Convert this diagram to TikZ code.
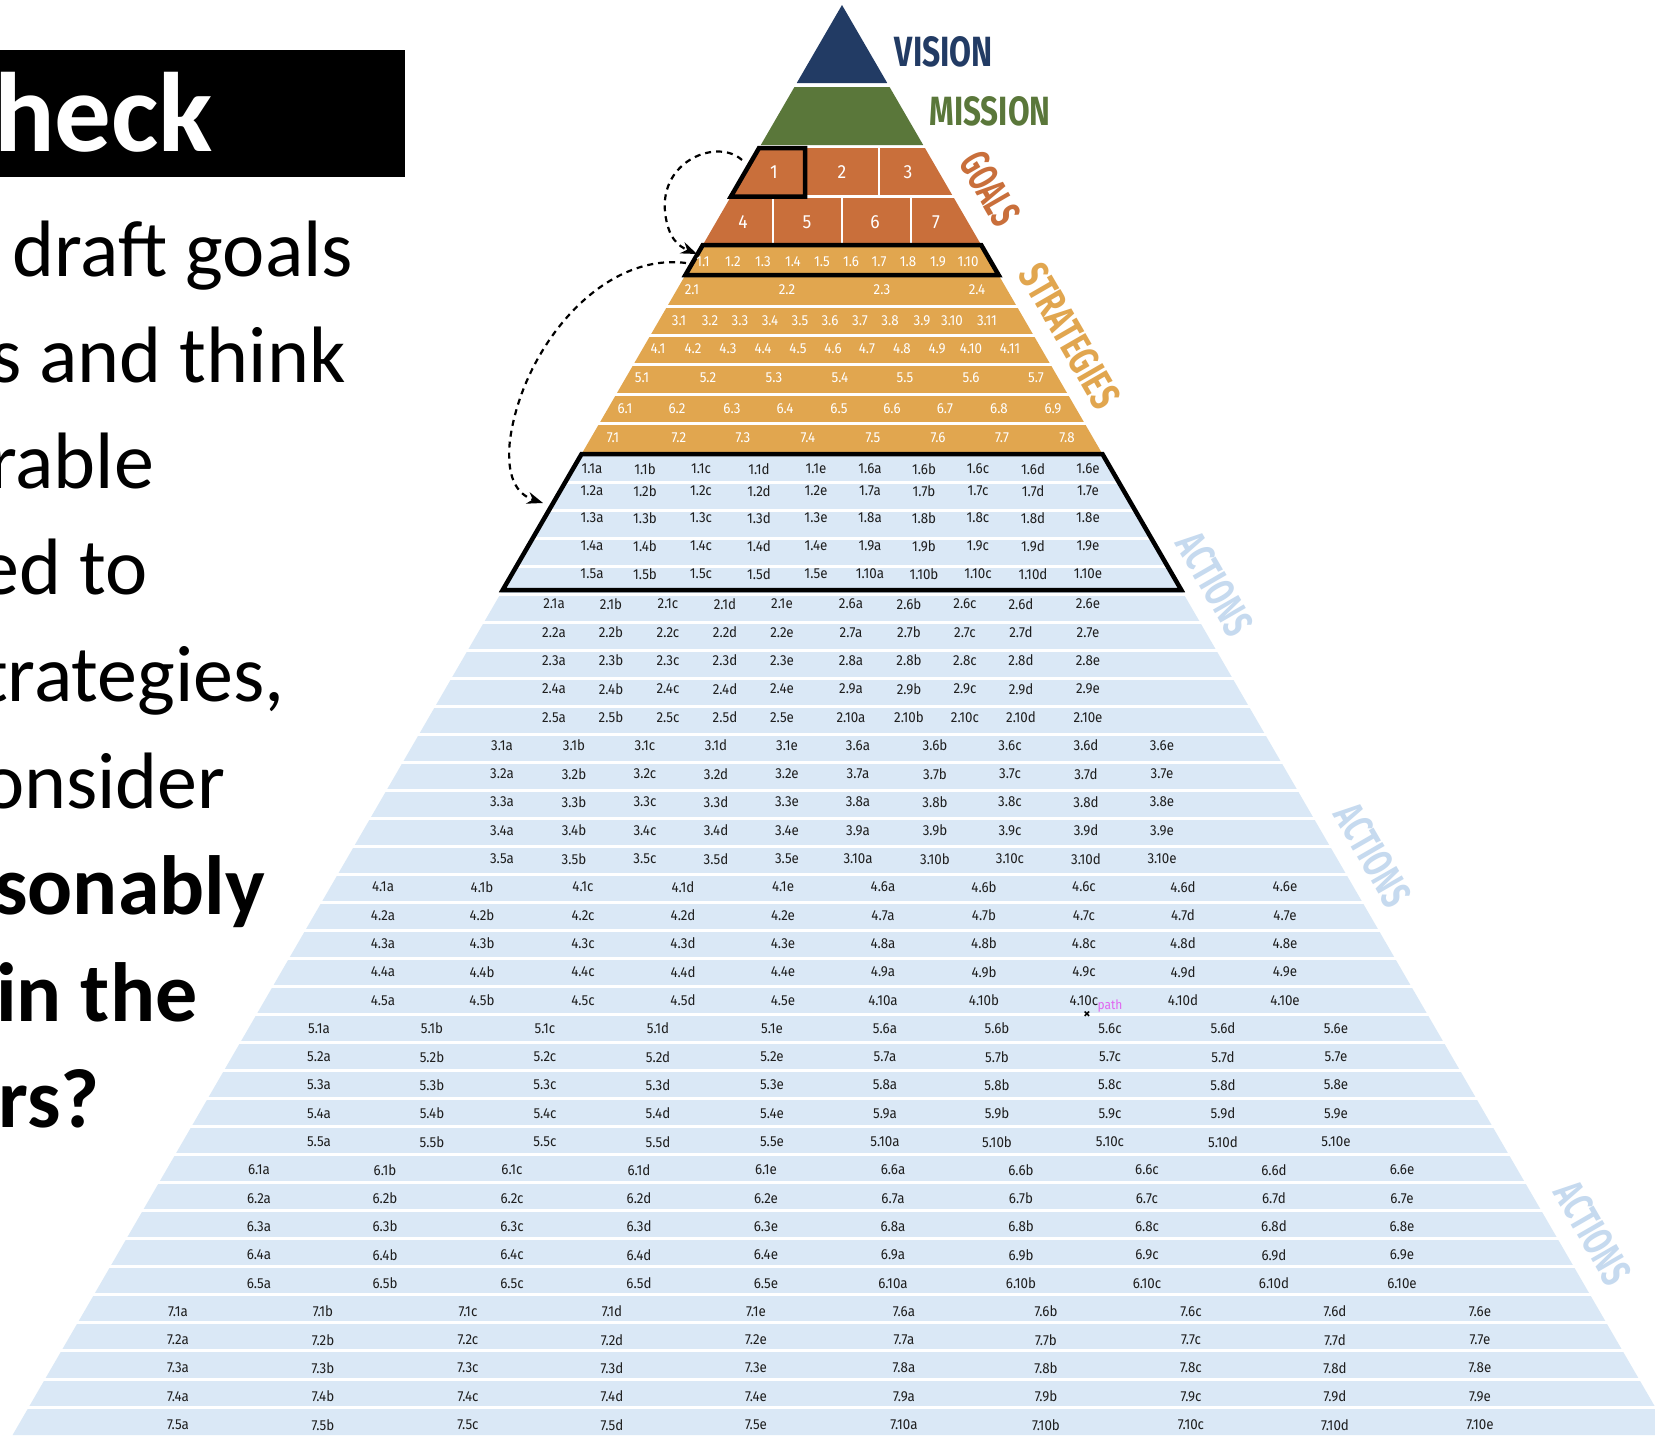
\documentclass[tikz,border=0pt]{standalone}
\usepackage{fontspec}
\usepackage{graphicx}
\usetikzlibrary{arrows.meta}
\setmainfont{Carlito}
\newfontfamily\bodyfont{Carlito}
\newfontfamily\numfont[FakeStretch=0.92]{Fira Sans}
\newfontfamily\labfont{Fira Sans}
\definecolor{visionc}{HTML}{223B64}
\definecolor{missionc}{HTML}{5A773A}
\definecolor{goalc}{HTML}{C96F3B}
\definecolor{stratc}{HTML}{E1A64F}
\definecolor{actc}{HTML}{DAE8F6}
\definecolor{acttext}{HTML}{C6DAEF}
\definecolor{labtext}{HTML}{1E1E1E}
\definecolor{pathc}{HTML}{E066F0}
\newcommand\letterof[1]{\ifcase#1\or a\or b\or c\or d\or e\fi}
\newcommand\actgroup[2]{%
  \foreach \r in {1,...,5}{%
    \ifnum#1=1 \pgfmathsetmacro\yy{{469,491,518,546,574}[\r-1]}\else\pgfmathsetmacro\yy{604+28.3*(5*#1+\r-11)}\fi
    \foreach [count=\c] \x in {#2}{%
      \pgfmathtruncatemacro\sub{\c<6 ? \r : \r+5}%
      \pgfmathtruncatemacro\li{\c<6 ? \c : \c-5}%
      \node[actlab] (act#1-\r-\c) at (\x,\yy) {#1.\sub\letterof{\li}};
    }
  }
}
\begin{document}
\begin{tikzpicture}[x=1pt,y=-1pt,
  declare function={xl(\t)=842-0.58*(\t-5); xr(\t)=842+0.58*(\t-5);},
  actlab/.style={font=\numfont\fontsize{14.5}{16}\selectfont, text=labtext, inner sep=0pt},
  stlab/.style={font=\numfont\fontsize{14.5}{16}\selectfont, text=white, inner sep=0pt},
  goallab/.style={font=\numfont\fontsize{19}{22}\selectfont, text=white, inner sep=0pt},
  body/.style={font=\bodyfont\fontsize{80}{96}\selectfont, anchor=base west, inner sep=0pt},
  bodyb/.style={font=\bodyfont\bfseries\fontsize{84}{100}\selectfont, anchor=base west, inner sep=0pt},
  pyrlab/.style={inner sep=0pt},
  sepline/.style={white, line width=3pt},
  thinsep/.style={white, line width=2.5pt},
  outlinebox/.style={black, line width=4.5pt},
  dasharrow/.style={black, line width=2.2pt, dash pattern=on 6pt off 5pt, -{Stealth[length=16pt,width=12pt]}}
]
\useasboundingbox (0,0) rectangle (1655,1440);
\fill[white] (0,0) rectangle (1655,1440);

% ---------- pyramid fills ----------
\fill[visionc] (842,5) -- ({xr(83)},83) -- ({xl(83)},83) -- cycle;
\fill[missionc] ({xl(87)},87) -- ({xr(87)},87) -- ({xr(145)},145) -- ({xl(145)},145) -- cycle;
\fill[goalc] ({xl(148)},148) -- ({xr(148)},148) -- ({xr(245)},245) -- ({xl(245)},245) -- cycle;
\fill[stratc] ({xl(245)},245) -- ({xr(245)},245) -- ({xr(454)},454) -- ({xl(454)},454) -- cycle;
\fill[actc] ({xl(454)},454) -- ({xr(454)},454) -- ({xr(1435)},1435) -- ({xl(1435)},1435) -- cycle;

% goal separators
\draw[thinsep] ({xl(196.5)-5},196.5) -- ({xr(196.5)+5},196.5);
\draw[thinsep] (879,148) -- (879,196.5);
\foreach \vx in {773,842,911} \draw[thinsep] (\vx,196.5) -- (\vx,245);

% strategy separators
\foreach \sy in {275,306,335,364,394,423}
  \draw[sepline] ({xl(\sy)-8},\sy) -- ({xr(\sy)+8},\sy);

% action separators
\foreach \k in {1,...,34}{
  \pgfmathsetmacro\ay{454+28.03*\k}
  \draw[sepline] ({xl(\ay)-10},\ay) -- ({xr(\ay)+10},\ay);
}

% ---------- outlines ----------
\draw[outlinebox] ({xl(148)},148) -- (805,148) -- (805,196.5) -- ({xl(196.5)},196.5) -- cycle;
\draw[outlinebox] ({xl(245)},245) -- ({xr(245)},245) -- ({xr(275)},275) -- ({xl(275)},275) -- cycle;
\draw[outlinebox] ({xl(454)},454) -- ({xr(454)},454) -- ({xr(590)},590) -- ({xl(590)},590) -- cycle;

% ---------- level labels ----------
\node[pyrlab, text=visionc] (vision) at (944,52) {\resizebox{98pt}{30pt}{\labfont\bfseries VISION}};
\node[pyrlab, text=missionc] (mission) at (990,111) {\resizebox{121pt}{29pt}{\labfont\bfseries MISSION}};
\node[pyrlab, text=goalc, rotate=-60] (goals) at (990,189) {\resizebox{77pt}{30pt}{\labfont\bfseries GOALS}};
\node[pyrlab, text=stratc, rotate=-60] (strategies) at (1070,336) {\resizebox{158pt}{30pt}{\labfont\bfseries STRATEGIES}};
\node[pyrlab, text=acttext, rotate=-60] (actions1) at (1215,584) {\resizebox{110pt}{30pt}{\labfont\bfseries ACTIONS}};
\node[pyrlab, text=acttext, rotate=-60] (actions2) at (1373,855) {\resizebox{110pt}{30pt}{\labfont\bfseries ACTIONS}};
\node[pyrlab, text=acttext, rotate=-60] (actions3) at (1593,1233) {\resizebox{110pt}{30pt}{\labfont\bfseries ACTIONS}};

% ---------- goals ----------
\node[goallab] (goal1) at (774,172) {1};
\node[goallab] (goal2) at (842,172) {2};
\node[goallab] (goal3) at (908,172) {3};
\node[goallab] (goal4) at (743,222) {4};
\node[goallab] (goal5) at (807,222) {5};
\node[goallab] (goal6) at (875,222) {6};
\node[goallab] (goal7) at (936,222) {7};

% ---------- strategies ----------
\foreach \x/\l [count=\i] in {703/1.1,733/1.2,763/1.3,793/1.4,822/1.5,851/1.6,879/1.7,908/1.8,938/1.9,968/1.10}
  \node[stlab] (s1-\i) at (\x,262) {\l};
\foreach \x/\l [count=\i] in {692/2.1,787/2.2,882/2.3,977/2.4}
  \node[stlab] (s2-\i) at (\x,290) {\l};
\foreach \x/\l [count=\i] in {679/3.1,710/3.2,740/3.3,770/3.4,800/3.5,830/3.6,860/3.7,890/3.8,922/3.9,952/3.10,987/3.11}
  \node[stlab] (s3-\i) at (\x,321) {\l};
\foreach \x/\l [count=\i] in {658/4.1,693/4.2,728/4.3,763/4.4,798/4.5,833/4.6,867/4.7,902/4.8,937/4.9,971/4.10,1010/4.11}
  \node[stlab] (s4-\i) at (\x,349) {\l};
\foreach \x/\l [count=\i] in {642/5.1,708/5.2,774/5.3,840/5.4,905/5.5,971/5.6,1036/5.7}
  \node[stlab] (s5-\i) at (\x,378) {\l};
\foreach \x/\l [count=\i] in {625/6.1,677/6.2,732/6.3,785/6.4,839/6.5,892/6.6,945/6.7,999/6.8,1053/6.9}
  \node[stlab] (s6-\i) at (\x,409) {\l};
\foreach \x/\l [count=\i] in {613/7.1,679/7.2,743/7.3,808/7.4,873/7.5,938/7.6,1002/7.7,1067/7.8}
  \node[stlab] (s7-\i) at (\x,438) {\l};

% ---------- actions ----------
\actgroup{1}{592,645,701,759,816,870,924,978,1033,1088}
\actgroup{2}{554,611,668,725,782,851,909,965,1021,1088}
\actgroup{3}{502,574,645,716,787,858,935,1010,1086,1162}
\actgroup{4}{383,482,583,683,783,883,984,1084,1183,1285}
\actgroup{5}{319,432,545,658,772,885,997,1110,1223,1336}
\actgroup{6}{259,385,512,639,766,893,1021,1147,1274,1402}
\actgroup{7}{178,323,468,612,756,904,1046,1191,1335,1480}

\node[font=\numfont\fontsize{13}{15}\selectfont, text=pathc, inner sep=0pt] (pathlab) at (1110,1006) {path};
\node[font=\labfont\bfseries\fontsize{14}{16}\selectfont, inner sep=0pt] (xmark) at (1087,1015) {×};

% ---------- dashed connectors ----------
\coordinate (g1out) at (742,160);
\coordinate (s1in) at (697,254);
\coordinate (s1out) at (686,263);
\coordinate (a1in) at (543,503);
\draw[dasharrow] (g1out) .. controls (718,138) and (660,160) .. (665,212) .. controls (668,238) and (678,246) .. (s1in);
\draw[dasharrow] (s1out) .. controls (600,252) and (522,350) .. (510,440) .. controls (506,476) and (516,494) .. (a1in);

% ---------- left text ----------
\fill[black] (0,50) rectangle (405,177);
\node[anchor=base west, inner sep=0pt, text=white, font=\bodyfont\bfseries\fontsize{113}{124}\selectfont] (title) at (-6,151) {heck};
\node[body] (t1) at (12,276) {draft goals};
\node[body] (t2) at (-10,382) {s and think};
\node[body] (t3) at (-11,488) {rable};
\node[body] (t4) at (-21,594) {ed to};
\node[body] (t5) at (-19,701) {trategies,};
\node[body] (t6) at (-18,808) {onsider};
\node[bodyb] (t7) at (-6,914) {sonably};
\node[bodyb] (t8) at (-4,1021) {in the};
\node[bodyb] (t9) at (-2,1127) {rs?};
\end{tikzpicture}
\end{document}
